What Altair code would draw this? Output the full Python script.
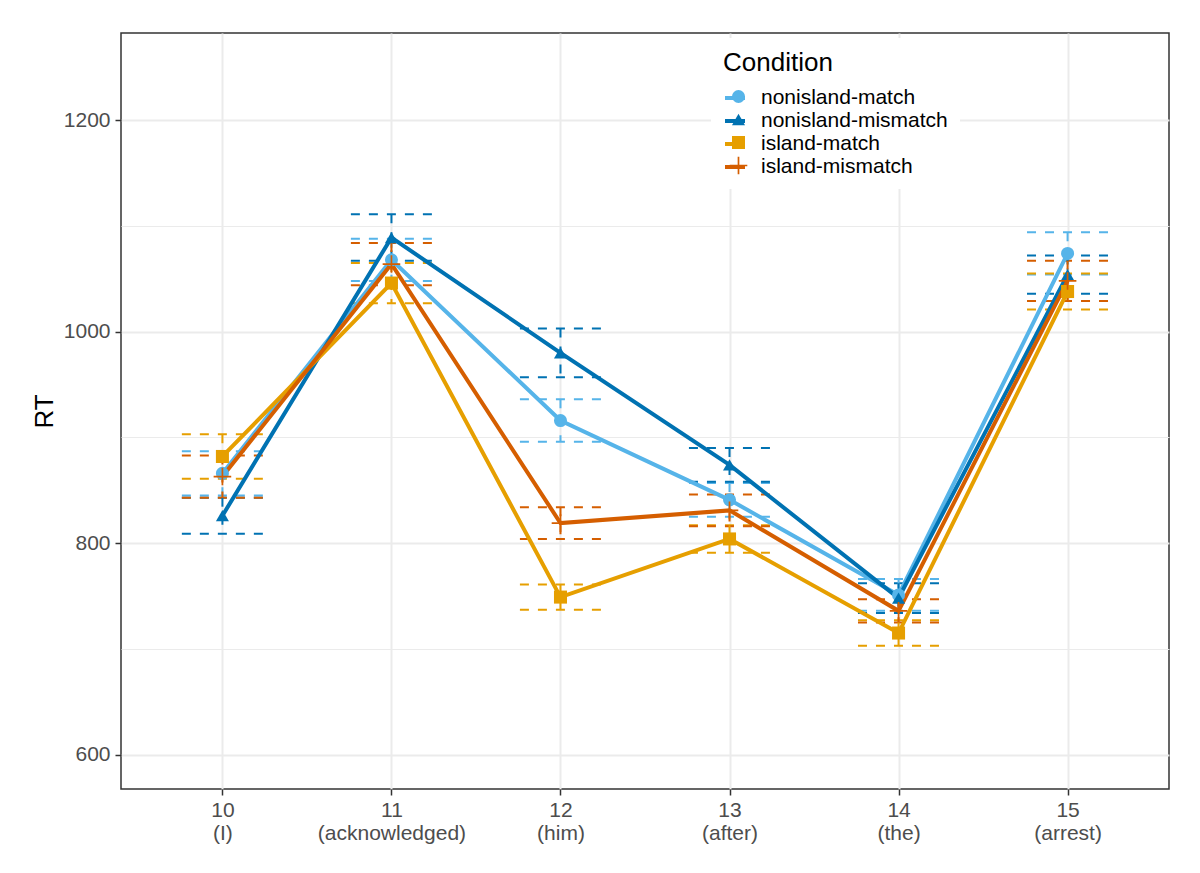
"""Reading times by region and condition, recreated with Altair."""

import json

import altair as alt
import pandas as pd


REGIONS = [10, 11, 12, 13, 14, 15]
WORDS = ["(I)", "(acknowledged)", "(him)", "(after)", "(the)", "(arrest)"]
CONDITIONS = ["nonisland-match", "nonisland-mismatch", "island-match", "island-mismatch"]

RT_NONISLAND_MATCH = [866, 1068, 916, 841, 751, 1074]
CI_NONISLAND_MATCH = [21, 20, 20, 16, 15, 20]
RT_NONISLAND_MISMATCH = [826, 1089, 980, 874, 748, 1054]
CI_NONISLAND_MISMATCH = [17, 22, 23, 16, 14, 18]
RT_ISLAND_MATCH = [882, 1046, 749, 804, 715, 1038]
CI_ISLAND_MATCH = [21, 19, 12, 13, 12, 17]
RT_ISLAND_MISMATCH = [863, 1064, 819, 831, 736, 1048]
CI_ISLAND_MISMATCH = [20, 20, 15, 15, 11, 19]

COLORS = ["#56B4E9", "#0072B2", "#E69F00", "#D55E00"]
PLUS = "M-1.35,-0.13H1.35V0.13H-1.35Z M-0.13,-1.35H0.13V1.35H-0.13Z"
SHAPES = ["circle", "triangle-up", "square", PLUS]

FONT = "Liberation Sans"
FIG_WIDTH = 1048
FIG_HEIGHT = 756
TICK_LABEL_FONT_SIZE = 21
TITLE_FONT_SIZE = 26
GRID_COLOR = "#EBEBEB"
DARK = "#333333"

# the point layer keys its scales on a tagged copy of the condition so that
# Vega-Lite keeps its legend apart from the line legend
MARK_KEYS = [c + "*" for c in CONDITIONS]


def build_data() -> pd.DataFrame:
    """Long table: one row per region and condition."""
    series = [
        (RT_NONISLAND_MATCH, CI_NONISLAND_MATCH),
        (RT_NONISLAND_MISMATCH, CI_NONISLAND_MISMATCH),
        (RT_ISLAND_MATCH, CI_ISLAND_MATCH),
        (RT_ISLAND_MISMATCH, CI_ISLAND_MISMATCH),
    ]
    rows = []
    for condition, key, (rts, cis) in zip(CONDITIONS, MARK_KEYS, series):
        for region, rt, ci in zip(REGIONS, rts, cis):
            rows.append({
                "region": region,
                "condition": condition,
                "mark_key": key,
                "rt": rt,
                "lo": rt - ci,
                "hi": rt + ci,
            })
    return pd.DataFrame(rows)


df = build_data()

x_scale = alt.Scale(domain=[9.4, 15.6], nice=False, zero=False)
y_scale = alt.Scale(domain=[567.5, 1282.5], nice=False, zero=False)

major = "datum.value % 200 == 0"
x_axis = alt.Axis(
    values=REGIONS,
    labelExpr=f"[datum.label, {json.dumps(WORDS)}[datum.value - 10]]",
    labelLineHeight=23,
    labelPadding=4,
    gridColor=GRID_COLOR,
    gridWidth=2,
)
y_axis = alt.Axis(
    values=[600, 700, 800, 900, 1000, 1100, 1200],
    format="d",
    labelExpr=f"{major} ? datum.label : ''",
    gridColor=GRID_COLOR,
    gridWidth={"condition": {"test": major, "value": 2}, "value": 1.1},
    tickOpacity={"condition": {"test": major, "value": 1}, "value": 0},
    labelPadding=5,
    titlePadding=6,
)

legend_common = dict(
    orient="none",
    legendX=590,
    legendY=5,
    padding=12,
    titleFont=FONT,
    titleFontSize=TITLE_FONT_SIZE,
    titleFontWeight="normal",
    titleColor="black",
    titlePadding=10,
    labelFont=FONT,
    labelFontSize=TICK_LABEL_FONT_SIZE,
    labelColor="black",
    labelOffset=14,
    labelLimit=400,
    rowPadding=1,
)
# the stroke legend sits underneath and carries the visible text
line_legend = alt.Legend(
    title="Condition",
    symbolType="stroke",
    symbolSize=400,
    symbolStrokeWidth=4,
    fillColor="white",
    zindex=0,
    **legend_common,
)
# the shape legend only adds the symbols on top of the strokes
shape_legend = alt.Legend(
    title=" ",
    labelExpr="''",
    symbolSize=170,
    symbolOffset=5,
    symbolStrokeWidth=0,
    zindex=1,
    **legend_common,
)

mark_color = alt.Color(
    "mark_key:N",
    scale=alt.Scale(domain=MARK_KEYS, range=COLORS),
    legend=shape_legend,
)
x_region = alt.X("region:Q", scale=x_scale, axis=x_axis, title=None)
y_rt = alt.Y("rt:Q", scale=y_scale, axis=y_axis, title="RT")

base = alt.Chart(df)

bar_ends = base.transform_calculate(
    left=alt.datum.region - 0.24,
    right=alt.datum.region + 0.24,
).transform_fold(["lo", "hi"], as_=["bound", "value"]).mark_rule(
    strokeDash=[9, 9],
    strokeWidth=2,
).encode(
    x=alt.X("left:Q", scale=x_scale, axis=x_axis, title=None),
    x2="right:Q",
    y=alt.Y("value:Q", scale=y_scale, axis=y_axis, title="RT"),
    color=mark_color,
)

bar_stems = base.mark_rule(strokeDash=[9, 9], strokeWidth=2).encode(
    x=x_region,
    y=alt.Y("hi:Q", scale=y_scale, axis=y_axis, title="RT"),
    y2="lo:Q",
    color=mark_color,
)

lines = base.mark_line(strokeWidth=4).encode(
    x=x_region,
    y=y_rt,
    stroke=alt.Stroke(
        "condition:N",
        scale=alt.Scale(domain=CONDITIONS, range=COLORS),
        legend=line_legend,
    ),
)

points = base.mark_point(filled=True, size=170, opacity=1, strokeWidth=0).encode(
    x=x_region,
    y=y_rt,
    color=mark_color,
    shape=alt.Shape(
        "mark_key:N",
        scale=alt.Scale(domain=MARK_KEYS, range=SHAPES),
        legend=shape_legend,
    ),
)

chart = alt.layer(bar_ends, bar_stems, lines, points).properties(
    width=FIG_WIDTH,
    height=FIG_HEIGHT,
    autosize=alt.AutoSizeParams(type="none"),
    padding={"left": 113, "top": 25, "right": 20, "bottom": 70},
).configure(
    font=FONT,
).configure_view(
    stroke=DARK,
    strokeWidth=1.5,
    fill="white",
).configure_axis(
    domain=False,
    labelFont=FONT,
    labelFontSize=TICK_LABEL_FONT_SIZE,
    labelColor="#4D4D4D",
    titleFont=FONT,
    titleFontSize=TITLE_FONT_SIZE,
    titleFontWeight="normal",
    titleColor="black",
    tickColor=DARK,
    tickWidth=1.5,
    tickSize=6,
)

chart.save("out.html", embed_options={"renderer": "svg", "actions": False})
